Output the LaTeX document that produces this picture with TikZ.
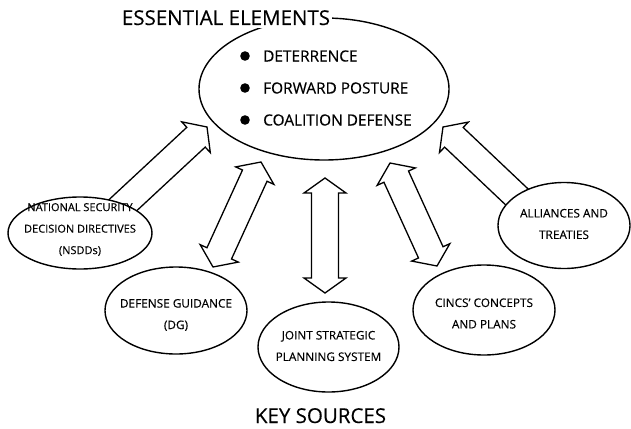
\documentclass[tikz,border=0pt]{standalone}
\usepackage{fontspec}
\setmainfont{Open Sans}[FakeBold=0.35]
\usetikzlibrary{calc,shapes.geometric}
\def\sw{13.5pt}
\def\hw{21pt}
\def\hl{15pt}
\newcommand\blkarrowone[2]{%
  \coordinate (sah) at ($(#2)!\hl!(#1)$);
  \draw[blockarrow] ($(#1)!\sw!90:(#2)$) -- ($(sah)!\sw!90:(#2)$) -- ($(sah)!\hw!90:(#2)$) -- (#2)
    -- ($(sah)!\hw!-90:(#2)$) -- ($(sah)!\sw!-90:(#2)$) -- ($(#1)!\sw!-90:(#2)$) -- cycle;
}
\newcommand\blkarrowtwo[2]{%
  \coordinate (dah) at ($(#1)!\hl!(#2)$);
  \coordinate (dat) at ($(#2)!\hl!(#1)$);
  \draw[blockarrow] (#1) -- ($(dah)!\hw!90:(#2)$) -- ($(dah)!\sw!90:(#2)$) -- ($(dat)!\sw!90:(#2)$)
    -- ($(dat)!\hw!90:(#2)$) -- (#2) -- ($(dat)!\hw!-90:(#2)$) -- ($(dat)!\sw!-90:(#2)$)
    -- ($(dah)!\sw!-90:(#2)$) -- ($(dah)!\hw!-90:(#2)$) -- cycle;
}
\begin{document}
\begin{tikzpicture}[x=1pt,y=-1pt,
  blockarrow/.style={draw=black, fill=white, line width=1.3pt, line join=miter},
  oval/.style={ellipse, draw=black, fill=white, line width=1.4pt, inner sep=0pt},
  small/.style={align=center, inner sep=0pt, font=\fontsize{11.8}{21.5}\selectfont},
  item/.style={anchor=west, inner sep=0pt, font=\fontsize{15.4}{18}\selectfont},
  bigtitle/.style={inner sep=0pt, font=\fontsize{20.5}{24}\selectfont},
  bullet/.style={circle, fill=black, inner sep=0pt, minimum size=9.6pt}]
\useasboundingbox (0,0) rectangle (631,428);

% arrow end points
\coordinate (a1tail) at (108,219);
\coordinate (a1tip) at (207,127);
\coordinate (a2top) at (261,162);
\coordinate (a2bot) at (213,267);
\coordinate (a3top) at (325,178);
\coordinate (a3bot) at (325,293);
\coordinate (a4top) at (390,163);
\coordinate (a4bot) at (437,266);
\coordinate (a5tail) at (555,233);
\coordinate (a5tip) at (443,127);

\blkarrowone{a1tail}{a1tip}
\blkarrowtwo{a2top}{a2bot}
\blkarrowtwo{a3top}{a3bot}
\blkarrowtwo{a4top}{a4bot}
\blkarrowone{a5tail}{a5tip}

% ellipses
\node[oval, minimum width=144pt, minimum height=72pt] (nsdd) at (80,233) {};
\node[oval, minimum width=250pt, minimum height=142pt] (main) at (324,89) {};
\node[oval, minimum width=142pt, minimum height=87pt] (dg) at (176,310.5) {};
\node[oval, minimum width=141pt, minimum height=90pt] (jsps) at (328.5,347) {};
\node[oval, minimum width=142pt, minimum height=90pt] (cincs) at (484,310) {};
\node[oval, minimum width=132pt, minimum height=86pt] (all) at (564,225.5) {};

% texts in main ellipse
\node[bullet] (b1) at (245,56) {};
\node[bullet] (b2) at (245,88) {};
\node[bullet] (b3) at (245,120) {};
\node[item] (t1) at (263,56) {DETERRENCE};
\node[item] (t2) at (263,88) {FORWARD POSTURE};
\node[item] (t3) at (263,120) {COALITION DEFENSE};

% texts in source ellipses
\node[small, font=\fontsize{11}{21.5}\selectfont] (nsddtext) at (80,229.5) {NATIONAL SECURITY\\DECISION DIRECTIVES\\(NSDDs)};
\node[small] (dgtext) at (176,315) {DEFENSE GUIDANCE\\(DG)};
\node[small] (jspstext) at (328.5,346) {JOINT STRATEGIC\\PLANNING SYSTEM};
\node[small] (cincstext) at (484,313.5) {CINCS' CONCEPTS\\AND PLANS};
\node[small] (alltext) at (564,224) {ALLIANCES AND\\TREATIES};

% titles
\node[bigtitle, anchor=base, fill=white, inner xsep=2pt, inner ysep=3pt] (title) at (226,25) {ESSENTIAL ELEMENTS};
\node[bigtitle, anchor=base] (keysrc) at (320.5,423) {KEY SOURCES};
\end{tikzpicture}
\end{document}
